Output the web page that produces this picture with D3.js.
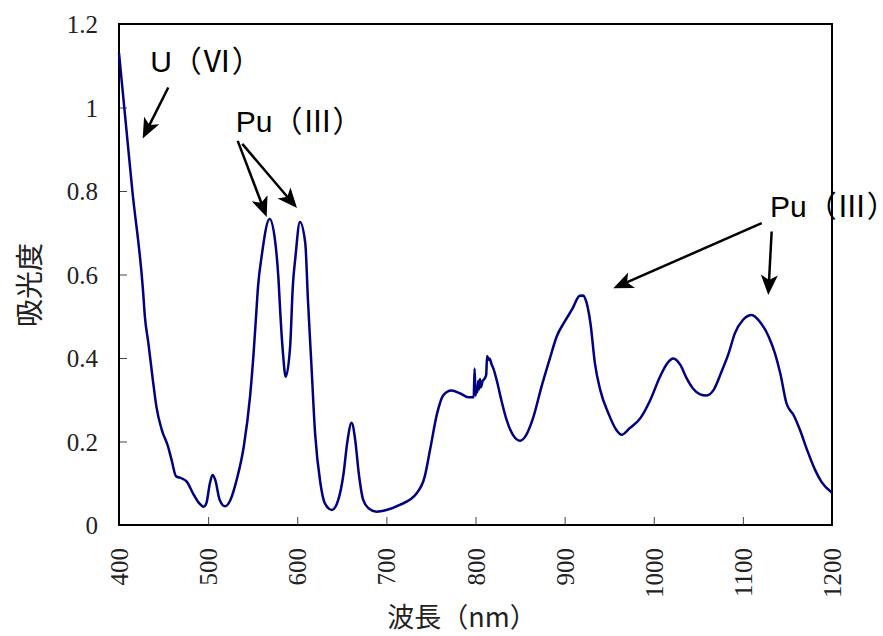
<!DOCTYPE html>
<html lang="ja">
<head>
<meta charset="UTF-8">
<title>吸光度スペクトル</title>
<script src="https://d3js.org/d3.v7.min.js"></script>
<style>
  body { margin: 0; background: #fff; }
</style>
</head>
<body>
<svg id="chart" width="883" height="636"></svg>
<script>
// wavelength (nm) and absorbance
const wavelengths = [400, 415, 427, 429, 433, 438, 442, 448, 455, 459, 464, 470, 476, 483, 490, 495, 498, 502, 505, 508,
  513, 519, 525, 532, 540, 547, 551, 554, 556, 560, 569, 575, 579, 581, 584, 587, 592, 595, 598, 603,
  609, 612, 616, 620, 626, 631, 639, 646, 652, 656, 661, 665, 669, 674, 680, 689, 700, 715, 734, 743,
  749, 757, 764, 773, 783, 792, 798, 799, 800, 801, 802, 803, 804, 805, 806, 808, 810, 812, 813, 815,
  816, 818, 820, 824, 829, 835, 842, 850, 857, 865, 874, 884, 891, 900, 908, 917, 921, 923, 929, 934,
  940, 949, 958, 964, 973, 985, 996, 1007, 1015, 1022, 1030, 1037, 1044, 1052, 1059, 1067, 1076, 1084, 1091, 1100,
  1110, 1119, 1129, 1136, 1142, 1149, 1157, 1164, 1172, 1181, 1188, 1200];
const absorbance = [1.13, 0.80, 0.56, 0.50, 0.435, 0.347, 0.283, 0.228, 0.188, 0.156, 0.117, 0.112, 0.104, 0.076, 0.052, 0.044, 0.052, 0.100, 0.120, 0.108,
  0.060, 0.045, 0.060, 0.108, 0.188, 0.307, 0.411, 0.507, 0.571, 0.643, 0.733, 0.683, 0.587, 0.507, 0.411, 0.355, 0.427, 0.571, 0.643, 0.726,
  0.675, 0.539, 0.379, 0.220, 0.100, 0.052, 0.036, 0.060, 0.124, 0.196, 0.245, 0.204, 0.124, 0.060, 0.040, 0.032, 0.036, 0.048, 0.076, 0.116,
  0.180, 0.268, 0.311, 0.322, 0.315, 0.306, 0.306, 0.375, 0.310, 0.330, 0.318, 0.345, 0.325, 0.350, 0.330, 0.345, 0.350, 0.360, 0.405, 0.395,
  0.398, 0.385, 0.375, 0.345, 0.299, 0.251, 0.216, 0.202, 0.216, 0.259, 0.331, 0.403, 0.451, 0.487, 0.515, 0.549, 0.550, 0.543, 0.483, 0.387,
  0.323, 0.268, 0.228, 0.216, 0.232, 0.256, 0.299, 0.355, 0.387, 0.399, 0.383, 0.351, 0.327, 0.313, 0.310, 0.323, 0.367, 0.411, 0.459, 0.491,
  0.503, 0.487, 0.451, 0.411, 0.363, 0.291, 0.263, 0.228, 0.180, 0.132, 0.104, 0.077];

const xTicks = [400, 500, 600, 700, 800, 900, 1000, 1100, 1200];
const yTicks = [0, 0.2, 0.4, 0.6, 0.8, 1, 1.2];
const yTickLabels = ["0", "0.2", "0.4", "0.6", "0.8", "1", "1.2"];

// annotations, in data units
const noteTexts = ["U（Ⅵ）", "Pu（Ⅲ）", "Pu（Ⅲ）"];
const noteAt = [[435, 1.085], [531, 0.941], [1130.5, 0.738]];
const arrowFrom = [[455.3, 1.048], [533.2, 0.920], [538.3, 0.913], [1121.1, 0.723], [1132.3, 0.703]];
const arrowTo = [[426.6, 0.926], [565.7, 0.738], [599.7, 0.759], [954.6, 0.567], [1128.5, 0.551]];

const plotLeft = 119, plotRight = 832, plotTop = 24, plotBottom = 525;
const serif = '"Liberation Serif", "DejaVu Serif", serif';
const sans = '"Liberation Sans", "Noto Sans CJK JP", sans-serif';

const svg = d3.select("#chart");

const x = d3.scaleLinear().domain([400, 1200]).range([plotLeft, plotRight]);
const y = d3.scaleLinear().domain([0, 1.2]).range([plotBottom, plotTop]);

// y axis, ticks pointing inside
const yAxis = svg.append("g")
  .attr("transform", "translate(" + plotLeft + ",0)")
  .call(d3.axisLeft(y).tickValues(yTicks).tickSize(-8).tickPadding(21)
    .tickFormat((d, i) => yTickLabels[i]));
yAxis.select(".domain").remove();
yAxis.selectAll("line").attr("stroke", "#444").attr("stroke-width", 1);
yAxis.selectAll("text")
  .attr("dy", "0.34em")
  .style("font-family", serif).style("font-size", "25px").style("fill", "#222");

// x axis, labels turned up
const xAxis = svg.append("g")
  .attr("transform", "translate(0," + plotBottom + ")")
  .call(d3.axisBottom(x).tickValues(xTicks).tickSize(-8).tickFormat(d3.format("d")));
xAxis.select(".domain").remove();
xAxis.selectAll("line").attr("stroke", "#444").attr("stroke-width", 1);
xAxis.selectAll("text")
  .attr("y", null).attr("dy", "0.34em")
  .attr("text-anchor", "end")
  .attr("transform", "translate(0,23) rotate(-90)")
  .style("font-family", serif).style("font-size", "25px").style("fill", "#222");

// frame
svg.append("rect")
  .attr("x", plotLeft).attr("y", plotTop)
  .attr("width", plotRight - plotLeft).attr("height", plotBottom - plotTop)
  .attr("fill", "none").attr("stroke", "#000").attr("stroke-width", 2);

// spectrum
const line = d3.line()
  .x(i => x(wavelengths[i]))
  .y(i => y(absorbance[i]))
  .curve(d3.curveMonotoneX);

svg.append("path")
  .attr("d", line(d3.range(wavelengths.length)))
  .attr("fill", "none")
  .attr("stroke", "#000080")
  .attr("stroke-width", 2.5);

// axis titles
svg.append("text")
  .attr("x", 462).attr("y", 627)
  .attr("text-anchor", "middle")
  .style("font-family", '"Noto Sans CJK JP", sans-serif').style("font-size", "27px").style("fill", "#222")
  .text("波長（nm）");

svg.append("text")
  .attr("transform", "translate(40,285) rotate(-90)")
  .attr("text-anchor", "middle")
  .style("font-family", '"Noto Sans CJK JP", sans-serif').style("font-size", "28px").style("fill", "#222")
  .text("吸光度");

// notes and arrows
svg.selectAll(".note")
  .data(noteTexts)
  .enter().append("text")
  .attr("class", "note")
  .attr("x", (d, i) => x(noteAt[i][0]))
  .attr("y", (d, i) => y(noteAt[i][1]))
  .style("font-family", sans).style("font-size", "30px").style("fill", "#000")
  .text(d => d);

arrowFrom.forEach((p, i) => {
  const x0 = x(p[0]), y0 = y(p[1]);
  const x1 = x(arrowTo[i][0]), y1 = y(arrowTo[i][1]);
  const ang = Math.atan2(y1 - y0, x1 - x0) * 180 / Math.PI;
  const len = Math.hypot(x1 - x0, y1 - y0);
  const g = svg.append("g")
    .attr("transform", "translate(" + x0 + "," + y0 + ") rotate(" + ang + ")");
  g.append("line")
    .attr("x1", 0).attr("y1", 0)
    .attr("x2", len - 14).attr("y2", 0)
    .attr("stroke", "#000").attr("stroke-width", 2.5);
  g.append("path")
    .attr("d", "M" + len + ",0 L" + (len - 20) + ",-8.5 L" + (len - 15) + ",0 L" + (len - 20) + ",8.5 Z")
    .attr("fill", "#000");
});
</script>
</body>
</html>
